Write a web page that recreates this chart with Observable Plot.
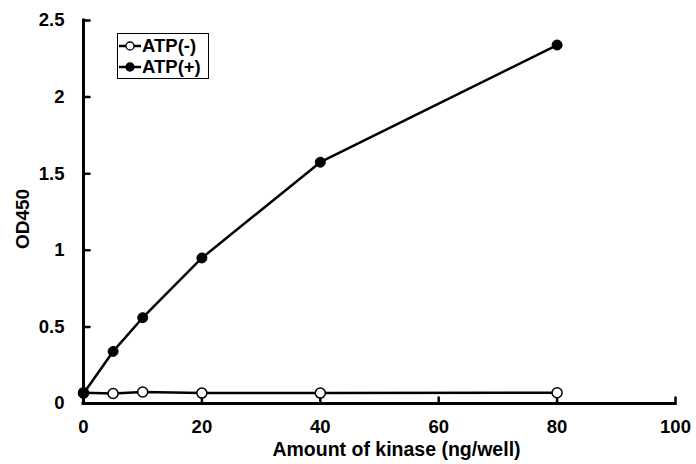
<!DOCTYPE html>
<html>
<head>
<meta charset="utf-8">
<script src="https://cdn.jsdelivr.net/npm/d3@7"></script>
<script src="https://cdn.jsdelivr.net/npm/@observablehq/plot@0.6"></script>
<style>
  html, body { margin: 0; padding: 0; background: #fff; }
  #wrap { position: relative; width: 696px; height: 464px; font-family: "Liberation Sans", Arial, sans-serif; }
  #legend { position: absolute; left: 117px; top: 33px; width: 89px; border: 1.5px solid #000; background: #fff;
            font: bold 18.5px "Liberation Sans", Arial, sans-serif; padding: 1px 0 1px 1px; }
  #legend .row { display: flex; align-items: center; height: 21px; }
  #legend svg { margin-right: 1px; }
  svg text { font-weight: bold; }
</style>
</head>
<body>
<div id="wrap"><div id="chart"></div><div id="legend"></div></div>
<script>
const kinase = [0, 5, 10, 20, 40, 80];
const atpMinus = [0.07, 0.065, 0.075, 0.068, 0.068, 0.07];
const atpPlus = [0.065, 0.34, 0.56, 0.95, 1.575, 2.34];
const seriesNames = ["ATP(-)", "ATP(+)"];
const xTicks = [0, 20, 40, 60, 80, 100];
const yTicks = [0, 0.5, 1, 1.5, 2, 2.5];
const xLabel = "Amount of kinase (ng/well)";
const yLabel = "OD450";

const rows = [];
kinase.forEach((k, i) => rows.push({x: k, y: atpMinus[i], s: seriesNames[0]}));
kinase.forEach((k, i) => rows.push({x: k, y: atpPlus[i], s: seriesNames[1]}));
const minus = rows.filter(d => d.s === seriesNames[0]);
const plus = rows.filter(d => d.s === seriesNames[1]);

const tickShape = {draw(context, l) { context.moveTo(0, 0); context.lineTo(0, -l); }};
const fontSize = 18.5;

const chart = Plot.plot({
  width: 696,
  height: 464,
  marginLeft: 83,
  marginRight: 21,
  marginTop: 20,
  marginBottom: 61,
  style: {fontFamily: "'Liberation Sans', Arial, sans-serif", fontWeight: "bold", fontSize: fontSize + "px", color: "#000", background: "#fff"},
  x: {domain: [0, 100]},
  y: {domain: [0, 2.5]},
  marks: [
    Plot.axisX({ticks: xTicks, tickSize: 0, tickPadding: 16, tickFormat: d => String(d), fontWeight: "bold", label: null, fontSize: fontSize}),
    Plot.axisY({ticks: yTicks, tickSize: 0, tickPadding: 19, tickFormat: d => String(d), fontWeight: "bold", label: null, fontSize: fontSize}),
    Plot.text([xLabel], {text: d => d, frameAnchor: "bottom", textAnchor: "middle", lineAnchor: "bottom", dx: 17, dy: 52, fontSize: 19.5, fontWeight: "bold", fill: "#000"}),
    Plot.text([yLabel], {text: d => d, frameAnchor: "left", textAnchor: "middle", lineAnchor: "middle", rotate: -90, dx: -61, dy: 7, fontSize: 19, fontWeight: "bold", fill: "#000"}),
    Plot.vector(xTicks, {x: d => d, y: 0, rotate: 0, length: 6, anchor: "start", shape: tickShape, stroke: "#000", strokeWidth: 2.5}),
    Plot.vector(yTicks, {x: 0, y: d => d, rotate: 90, length: 6, anchor: "start", shape: tickShape, stroke: "#000", strokeWidth: 2.5}),
    Plot.ruleY([0], {stroke: "#000", strokeWidth: 3, strokeLinecap: "square"}),
    Plot.ruleX([0], {stroke: "#000", strokeWidth: 3, strokeLinecap: "square"}),
    Plot.line(minus, {x: "x", y: "y", stroke: "#000", strokeWidth: 2.5}),
    Plot.dot(minus, {x: "x", y: "y", r: 5, fill: "#fff", stroke: "#000", strokeWidth: 1.5}),
    Plot.line(plus, {x: "x", y: "y", stroke: "#000", strokeWidth: 2.5}),
    Plot.dot(plus, {x: "x", y: "y", r: 5, fill: "#000", stroke: "#000", strokeWidth: 1})
  ]
});
document.getElementById("chart").appendChild(chart);

const legend = document.getElementById("legend");
seriesNames.forEach((name, i) => {
  const row = document.createElement("div");
  row.className = "row";
  const fill = i === 0 ? "#fff" : "#000";
  row.innerHTML = `<svg width="22" height="14"><line x1="0" y1="7" x2="22" y2="7" stroke="#000" stroke-width="2.5"/><circle cx="11" cy="7" r="4" fill="${fill}" stroke="#000" stroke-width="1.3"/></svg><span>${name}</span>`;
  legend.appendChild(row);
});
</script>
</body>
</html>
